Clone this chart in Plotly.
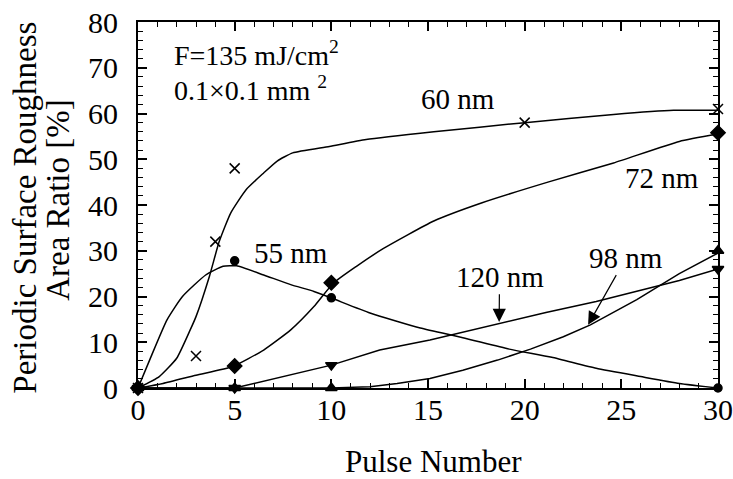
import plotly.graph_objects as go

# ---- marker data (measured points) ----
m60_x = [0, 3, 4, 5, 20, 30]
m60_y = [0, 7, 32, 48, 58, 61]
m55_x = [0, 5, 10, 30]
m55_y = [0, 27.8, 19.7, 0]
m72_x = [0, 5, 10, 30]
m72_y = [0, 4.8, 23, 55.8]
m120_x = [0, 5, 10, 30]
m120_y = [0, 0, 5, 26]
m98_x = [0, 5, 10, 30]
m98_y = [0, 0, 0, 30]

# ---- fitted curves ----
c60_x = [0, 1.1, 2, 2.7, 3.0, 3.7, 4.2, 4.8, 5.6, 6.5, 7.2, 8.0, 9.9, 11.8, 15.3, 20, 24.6, 27.7, 30]
c60_y = [0, 2.5, 6.5, 12.7, 15.6, 24.5, 32, 38.3, 43.4, 47, 49.6, 51.4, 52.8, 54.3, 56, 58, 59.8, 60.7, 60.7]
c55_x = [0, 0.6, 1.5, 2.3, 3.5, 4.4, 5.1, 6.5, 7.9, 9.1, 10.1, 12.0, 14.6, 16.8, 19.2, 21.4, 23.7, 26, 28, 30]
c55_y = [0, 6.1, 14.9, 20, 24.7, 26.6, 26.7, 24.7, 22.6, 21.1, 19.5, 16.4, 13.1, 11.0, 8.5, 6.7, 4.3, 2.5, 1.0, 0]
c72_x = [0, 1.3, 3.0, 4.9, 6.5, 7.9, 9.1, 10.1, 11.3, 12.7, 15.3, 17.8, 21.2, 24.6, 28, 30]
c72_y = [0, 1.0, 2.8, 4.7, 8.3, 12.7, 17.8, 22.9, 26.6, 30.5, 36.5, 40.5, 45, 49.2, 53.9, 55.5]
c120_x = [0, 5, 10, 12.5, 15.1, 18.6, 21.1, 23.7, 26, 28, 30]
c120_y = [0, 0, 5, 8.3, 10.5, 14.0, 16.5, 18.9, 21.3, 23.5, 26]
c98_x = [0, 10, 12, 13.4, 15.1, 16.8, 18.6, 20.3, 22, 23.4, 25.8, 28, 30]
c98_y = [0, 0, 0.3, 1.0, 2.1, 3.9, 6.1, 8.5, 11.2, 13.8, 19.3, 25, 29.5]

x_ticks = [0, 5, 10, 15, 20, 25, 30]
y_ticks = [0, 10, 20, 30, 40, 50, 60, 70, 80]

FONT = "Liberation Serif"
BLACK = "black"

fig = go.Figure()
curves = [(c60_x, c60_y, "spline"), (c55_x, c55_y, "spline"), (c72_x, c72_y, "spline"),
          (c120_x, c120_y, "linear"), (c98_x, c98_y, "linear")]
for cx, cy, shp in curves:
    fig.add_trace(go.Scatter(x=cx, y=cy, mode="lines",
                             line=dict(color=BLACK, width=1.5, shape=shp, smoothing=0.5),
                             showlegend=False, hoverinfo="skip"))

markers = [
    (m60_x, m60_y, "x-thin-open", 10),
    (m55_x, m55_y, "circle", 8),
    (m72_x, m72_y, "diamond", 11),
    (m120_x, m120_y, "triangle-down", 10),
    (m98_x, m98_y, "triangle-up", 10),
]
for mx, my, sym, sz in markers:
    fig.add_trace(go.Scatter(x=mx, y=my, mode="markers", cliponaxis=False,
                             marker=dict(symbol=sym, size=sz, color=BLACK,
                                         line=dict(color=BLACK, width=1.5)),
                             showlegend=False))

lab_font = dict(family=FONT, size=29, color=BLACK)
labels = [("60 nm", 16.55, 63.1), ("72 nm", 27.1, 46.0), ("55 nm", 7.9, 29.6)]
for t, x, y in labels:
    fig.add_annotation(x=x, y=y, text=t, showarrow=False, font=lab_font)

# labels with arrows: text sits at (ax, ay), arrow points to (x, y)
fig.add_annotation(x=18.68, y=14.45, ax=18.7, ay=24.3, axref="x", ayref="y",
                   text="120 nm", showarrow=True, arrowhead=2, arrowsize=2.2,
                   arrowwidth=1.2, arrowcolor=BLACK, font=lab_font)
fig.add_annotation(x=23.28, y=13.8, ax=25.25, ay=28.5, axref="x", ayref="y",
                   text="98 nm", showarrow=True, arrowhead=2, arrowsize=2.2,
                   arrowwidth=1.2, arrowcolor=BLACK, font=lab_font)

info_font = dict(family=FONT, size=28, color=BLACK)
fig.add_annotation(x=1.74, y=73.1, xanchor="left", text="F=135 mJ/cm<sup>2</sup>",
                   showarrow=False, font=info_font)
fig.add_annotation(x=1.74, y=65.5, xanchor="left", text="0.1×0.1 mm <sup>2</sup>",
                   showarrow=False, font=info_font)

# axis titles
fig.add_annotation(xref="paper", yref="paper", x=0.51, y=-0.2,
                   xanchor="center", yanchor="middle", text="Pulse Number",
                   showarrow=False, font=dict(family=FONT, size=31, color=BLACK))
fig.add_annotation(xref="paper", yref="paper", x=-0.195, y=0.4925,
                   xanchor="center", yanchor="middle", textangle=-90,
                   text="Periodic Surface Roughness", showarrow=False,
                   font=dict(family=FONT, size=33, color=BLACK))
fig.add_annotation(xref="paper", yref="paper", x=-0.138, y=0.514,
                   xanchor="center", yanchor="middle", textangle=-90,
                   text="Area Ratio [%]", showarrow=False,
                   font=dict(family=FONT, size=33, color=BLACK))

axis_common = dict(showline=True, linecolor=BLACK, linewidth=2, mirror="allticks",
                   ticks="inside", ticklen=9, tickwidth=1.5, tickcolor=BLACK,
                   showgrid=False, zeroline=False, automargin=False,
                   ticklabeloverflow="allow",
                   tickfont=dict(family=FONT, size=30, color=BLACK))
fig.update_xaxes(range=[0, 30], tickvals=x_ticks, ticklabelstandoff=-6,
                 minor=dict(ticks="inside", dtick=1, ticklen=5, tickwidth=1.2, tickcolor=BLACK),
                 **axis_common)
fig.update_yaxes(range=[0, 80], tickvals=y_ticks, ticklabelstandoff=12,
                 minor=dict(ticks="inside", dtick=2, ticklen=5, tickwidth=1.2, tickcolor=BLACK),
                 **axis_common)

fig.update_layout(width=733, height=479, margin=dict(l=138, r=15, t=22, b=91),
                  plot_bgcolor="white", paper_bgcolor="white",
                  font=dict(family=FONT, color=BLACK), showlegend=False)

# remove the browser's default body margin so the figure fills the window exactly
fig.write_html("out.html", config={"displayModeBar": False},
               post_script="document.body.style.margin='0';document.body.style.overflow='hidden';")
